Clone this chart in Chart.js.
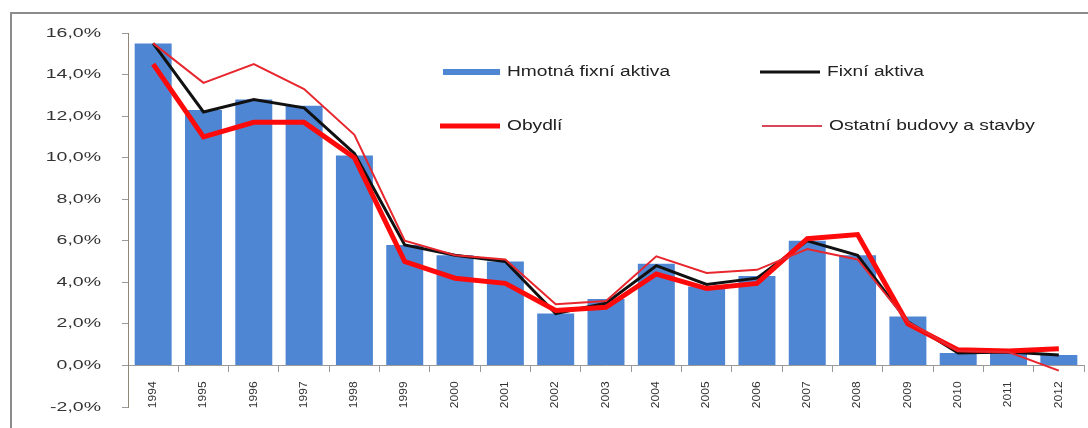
<!DOCTYPE html>
<html>
<head>
<meta charset="utf-8">
<script src="https://cdn.jsdelivr.net/npm/chart.js@4/dist/chart.umd.min.js"></script>
<style>
  html, body { margin: 0; padding: 0; background: #fff; overflow: hidden; }
  #wrap { position: relative; width: 1088px; height: 428px; }
  #frame { position: absolute; left: 10px; top: 12px; width: 1200px; height: 600px;
           border-left: 2px solid #8c8c8c; border-top: 2px solid #8c8c8c; }
  #myChart { position: absolute; left: 0; top: 0; }
</style>
</head>
<body>
<div id="wrap">
  <div id="frame"></div>
  <canvas id="myChart" width="1088" height="428"></canvas>
</div>
<script>
'use strict'

let years = ['1994', '1995', '1996', '1997', '1998', '1999', '2000', '2001', '2002', '2003',
             '2004', '2005', '2006', '2007', '2008', '2009', '2010', '2011', '2012'];

let hmotnaFixniAktiva = [15.5, 12.3, 12.8, 12.5, 10.1, 5.8, 5.3, 5.0, 2.5, 3.2,
                         4.9, 3.8, 4.3, 6.0, 5.3, 2.35, 0.6, 0.6, 0.5];
let fixniAktiva = [15.5, 12.2, 12.8, 12.4, 10.2, 5.8, 5.3, 5.0, 2.5, 3.0,
                   4.8, 3.9, 4.2, 6.0, 5.3, 2.1, 0.6, 0.65, 0.5];
let obydli = [14.5, 11.0, 11.7, 11.7, 10.0, 5.0, 4.2, 3.95, 2.65, 2.8,
              4.4, 3.7, 3.95, 6.1, 6.3, 2.0, 0.75, 0.7, 0.8];
let ostatniBudovy = [15.5, 13.6, 14.5, 13.3, 11.1, 6.0, 5.3, 5.1, 2.95, 3.1,
                     5.25, 4.45, 4.6, 5.6, 5.1, 2.1, 0.7, 0.65, -0.25];

let yMin = -2;
let yMax = 16;
let yStep = 2;

// the original text is drawn wide, so stretch the tick labels a bit
class WideLinear extends Chart.LinearScale {
  drawLabels(area) {
    let ctx = this.ctx;
    let x = this.right - this.options.grid.tickLength - this.options.ticks.padding;
    ctx.save();
    ctx.translate(x, 0);
    ctx.scale(1.5, 1);
    ctx.translate(-x, 0);
    super.drawLabels(area);
    ctx.restore();
  }
}
WideLinear.id = 'wideLinear';
WideLinear.defaults = Chart.LinearScale.defaults;

class TallCategory extends Chart.CategoryScale {
  drawLabels(area) {
    let ctx = this.ctx;
    let y = this.chart.scales.y.getPixelForValue(0) + this.options.grid.tickLength + this.options.ticks.padding;
    ctx.save();
    ctx.translate(0, y);
    ctx.scale(1, 1.2);
    ctx.translate(0, -y);
    super.drawLabels(area);
    ctx.restore();
  }
}
TallCategory.id = 'tallCategory';
TallCategory.defaults = Chart.CategoryScale.defaults;

Chart.register(WideLinear, TallCategory);

// legend in two columns inside the plot, like the original
let legendSpots = [
  { x: 443, y: 72, w: 57, lw: 6 },
  { x: 760, y: 72, w: 60, lw: 3 },
  { x: 440, y: 126, w: 60, lw: 5 },
  { x: 762, y: 126, w: 60, lw: 2 }
];

let insideLegend = {
  id: 'insideLegend',
  afterDraw(chart) {
    let ctx = chart.ctx;
    chart.data.datasets.forEach(function (ds, i) {
      let s = legendSpots[i];
      ctx.save();
      ctx.strokeStyle = ds.legendColor || ds.borderColor;
      ctx.lineWidth = s.lw;
      ctx.beginPath();
      ctx.moveTo(s.x, s.y);
      ctx.lineTo(s.x + s.w, s.y);
      ctx.stroke();
      ctx.fillStyle = '#222';
      ctx.font = '14px "Liberation Sans", Arial, sans-serif';
      ctx.textBaseline = 'middle';
      ctx.translate(s.x + s.w + 7, s.y);
      ctx.scale(1.37, 1);
      ctx.fillText(ds.label, 0, 0);
      ctx.restore();
    });
  }
};

let ctx = document.getElementById('myChart').getContext('2d');

let chart = new Chart(ctx, {
  type: 'bar',
  data: {
    labels: years,
    datasets: [
      {
        type: 'bar',
        label: 'Hmotná fixní aktiva',
        data: hmotnaFixniAktiva,
        backgroundColor: '#4f86d3',
        legendColor: '#4f86d3',
        categoryPercentage: 1,
        barPercentage: 0.735,
        order: 4
      },
      {
        type: 'line',
        label: 'Fixní aktiva',
        data: fixniAktiva,
        borderColor: '#111111',
        borderWidth: 3,
        pointRadius: 0,
        tension: 0,
        order: 3
      },
      {
        type: 'line',
        label: 'Obydlí',
        data: obydli,
        borderColor: '#ff0a0a',
        borderWidth: 5,
        pointRadius: 0,
        tension: 0,
        order: 2
      },
      {
        type: 'line',
        label: 'Ostatní budovy a stavby',
        data: ostatniBudovy,
        borderColor: '#e8262e',
        legendColor: '#d8475a',
        borderWidth: 2,
        pointRadius: 0,
        tension: 0,
        order: 1
      }
    ]
  },
  options: {
    responsive: false,
    animation: false,
    layout: { padding: { top: 33, right: 4, bottom: 21, left: 0 } },
    plugins: {
      legend: { display: false },
      tooltip: { enabled: false }
    },
    scales: {
      x: {
        type: 'tallCategory',
        position: { y: 0 },
        offset: true,
        afterFit: function (scale) { scale.height = 0; },
        grid: {
          offset: true,
          drawOnChartArea: false,
          drawTicks: true,
          tickLength: 6,
          color: '#9a9a9a'
        },
        border: { color: '#9a9a9a', width: 1 },
        ticks: {
          autoSkip: false,
          minRotation: 90,
          maxRotation: 90,
          padding: 10,
          color: '#333',
          font: { family: '"Liberation Sans", Arial, sans-serif', size: 10 }
        }
      },
      y: {
        type: 'wideLinear',
        min: yMin,
        max: yMax,
        afterFit: function (scale) {
          scale.width = 128;
          scale.paddingTop = 0;
          scale.paddingBottom = 0;
        },
        grid: {
          drawOnChartArea: false,
          drawTicks: true,
          tickLength: 6,
          color: '#9a9a9a'
        },
        border: { color: '#8f8778', width: 1 },
        ticks: {
          stepSize: yStep,
          padding: 21,
          color: '#333',
          font: { family: '"Liberation Sans", Arial, sans-serif', size: 13 },
          callback: function (v) { return v.toFixed(1).replace('.', ',') + '%'; }
        }
      }
    }
  },
  plugins: [insideLegend]
});
</script>
</body>
</html>
